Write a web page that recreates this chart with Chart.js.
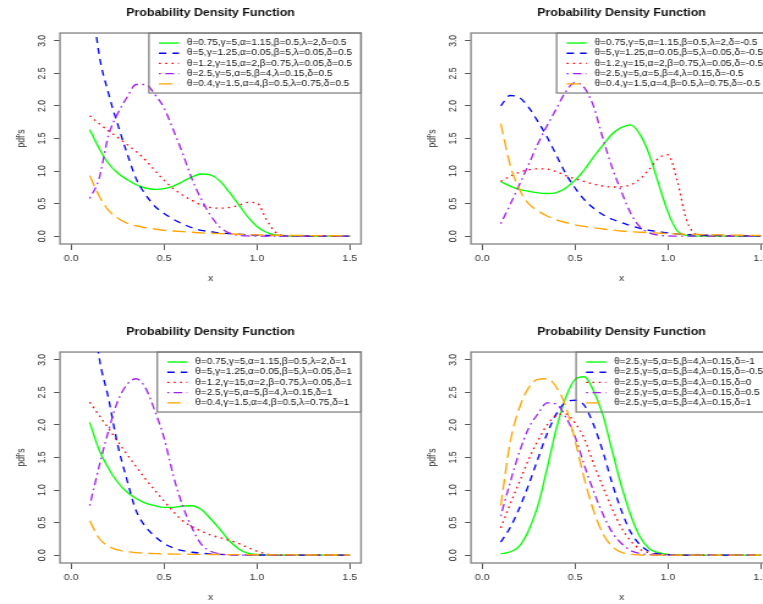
<!DOCTYPE html>
<html>
<head>
<meta charset="utf-8">
<title>Probability Density Function</title>
<script src="https://cdn.jsdelivr.net/npm/chart.js@4.4.1/dist/chart.umd.min.js"></script>
<style>
  html, body { margin: 0; padding: 0; background: #fff; }
  body { width: 763px; height: 604px; overflow: hidden; position: relative; }
  .panel { position: absolute; width: 380px; height: 300px; }
  .panel canvas { display: block; }
</style>
</head>
<body>
<div class="panel" style="left:0;top:0"><canvas id="pdfHalf"></canvas></div>
<div class="panel" style="left:411px;top:0"><canvas id="pdfNegHalf"></canvas></div>
<div class="panel" style="left:0;top:319px"><canvas id="pdfOne"></canvas></div>
<div class="panel" style="left:411px;top:319px"><canvas id="pdfSweep"></canvas></div>
<script>
// x grid shared by every curve
const xGrid = [0.10, 0.15, 0.20, 0.25, 0.30, 0.35, 0.40, 0.45, 0.50, 0.55, 0.60, 0.65, 0.70, 0.75,
  0.80, 0.85, 0.90, 0.95, 1.00, 1.05, 1.10, 1.15, 1.20, 1.25, 1.30, 1.35, 1.40, 1.45, 1.50];
const xTicks = [0, 0.5, 1, 1.5];
const yTicks = [0, 0.5, 1, 1.5, 2, 2.5, 3];

// delta = 0.5
const halfLabels = [
  'θ=0.75,γ=5,α=1.15,β=0.5,λ=2,δ=0.5',
  'θ=5,γ=1.25,α=0.05,β=5,λ=0.05,δ=0.5',
  'θ=1.2,γ=15,α=2,β=0.75,λ=0.05,δ=0.5',
  'θ=2.5,γ=5,α=5,β=4,λ=0.15,δ=0.5',
  'θ=0.4,γ=1.5,α=4,β=0.5,λ=0.75,δ=0.5'
];
const halfGreen = [1.64, 1.35, 1.12, 0.97, 0.87, 0.79, 0.74, 0.72, 0.73, 0.77, 0.84, 0.91, 0.955, 0.94,
  0.85, 0.68, 0.49, 0.30, 0.15, 0.06, 0.02, 0.005, 0, 0, 0, 0, 0, 0, 0];
const halfBlue = [3.9, 2.8, 2.2, 1.72, 1.28, 0.88, 0.64, 0.46, 0.35, 0.26, 0.19, 0.13, 0.09, 0.07,
  0.05, 0.04, 0.03, 0.02, 0.015, 0.01, 0.01, 0.005, 0.004, 0.003, 0.002, 0.002, 0.001, 0.001, 0.001];
const halfRed = [1.85, 1.73, 1.62, 1.52, 1.41, 1.30, 1.17, 1.01, 0.86, 0.73, 0.63, 0.55, 0.48, 0.44,
  0.43, 0.44, 0.47, 0.52, 0.51, 0.26, 0.06, 0.01, 0, 0, 0, 0, 0, 0, 0];
const halfPurple = [0.58, 0.88, 1.54, 1.88, 2.13, 2.33, 2.33, 2.18, 1.97, 1.63, 1.27, 0.88, 0.57, 0.32,
  0.14, 0.05, 0.015, 0.004, 0, 0, 0, 0, 0, 0, 0, 0, 0, 0, 0];
const halfOrange = [0.93, 0.62, 0.40, 0.28, 0.20, 0.16, 0.13, 0.11, 0.09, 0.08, 0.07, 0.06, 0.05, 0.045,
  0.04, 0.035, 0.03, 0.025, 0.02, 0.018, 0.015, 0.013, 0.011, 0.01, 0.009, 0.008, 0.007, 0.006, 0.005];

// delta = -0.5
const negHalfLabels = [
  'θ=0.75,γ=5,α=1.15,β=0.5,λ=2,δ=-0.5',
  'θ=5,γ=1.25,α=0.05,β=5,λ=0.05,δ=-0.5',
  'θ=1.2,γ=15,α=2,β=0.75,λ=0.05,δ=-0.5',
  'θ=2.5,γ=5,α=5,β=4,λ=0.15,δ=-0.5',
  'θ=0.4,γ=1.5,α=4,β=0.5,λ=0.75,δ=-0.5'
];
const negHalfGreen = [0.84, 0.77, 0.72, 0.69, 0.665, 0.655, 0.67, 0.74, 0.86, 1.02, 1.22, 1.40, 1.57, 1.67,
  1.71, 1.56, 1.25, 0.80, 0.37, 0.08, 0.012, 0.002, 0, 0, 0, 0, 0, 0, 0];
const negHalfBlue = [2.00, 2.16, 2.13, 1.98, 1.76, 1.52, 1.24, 0.96, 0.74, 0.56, 0.43, 0.33, 0.26, 0.21,
  0.16, 0.12, 0.09, 0.07, 0.05, 0.035, 0.025, 0.02, 0.015, 0.012, 0.01, 0.008, 0.006, 0.005, 0.004];
const negHalfRed = [0.84, 0.92, 0.98, 1.02, 1.035, 1.03, 0.99, 0.93, 0.88, 0.84, 0.80, 0.77, 0.755, 0.76,
  0.79, 0.88, 1.03, 1.20, 1.25, 0.85, 0.25, 0.03, 0.005, 0, 0, 0, 0, 0, 0];
const negHalfPurple = [0.19, 0.48, 0.79, 1.10, 1.42, 1.70, 1.96, 2.22, 2.36, 2.28, 1.99, 1.50, 1.05, 0.68,
  0.35, 0.14, 0.05, 0.015, 0.004, 0, 0, 0, 0, 0, 0, 0, 0, 0, 0];
const negHalfOrange = [1.73, 1.10, 0.72, 0.50, 0.39, 0.31, 0.25, 0.21, 0.175, 0.15, 0.13, 0.11, 0.095, 0.08,
  0.07, 0.06, 0.055, 0.047, 0.04, 0.035, 0.03, 0.027, 0.024, 0.021, 0.019, 0.017, 0.015, 0.013, 0.012];

// delta = 1
const oneLabels = [
  'θ=0.75,γ=5,α=1.15,β=0.5,λ=2,δ=1',
  'θ=5,γ=1.25,α=0.05,β=5,λ=0.05,δ=1',
  'θ=1.2,γ=15,α=2,β=0.75,λ=0.05,δ=1',
  'θ=2.5,γ=5,α=5,β=4,λ=0.15,δ=1',
  'θ=0.4,γ=1.5,α=4,β=0.5,λ=0.75,δ=1'
];
const oneGreen = [2.04, 1.62, 1.34, 1.12, 0.97, 0.87, 0.80, 0.76, 0.735, 0.735, 0.755, 0.76, 0.70, 0.56,
  0.40, 0.225, 0.10, 0.03, 0.01, 0.003, 0, 0, 0, 0, 0, 0, 0, 0, 0];
const oneBlue = [4.2, 3.05, 2.42, 1.70, 1.16, 0.68, 0.44, 0.29, 0.18, 0.11, 0.07, 0.045, 0.03, 0.02,
  0.012, 0.006, 0.004, 0.003, 0.002, 0.001, 0, 0, 0, 0, 0, 0, 0, 0, 0];
const oneRed = [2.35, 2.15, 1.95, 1.75, 1.55, 1.36, 1.17, 1.00, 0.83, 0.67, 0.53, 0.44, 0.37, 0.31,
  0.27, 0.23, 0.18, 0.12, 0.06, 0.02, 0.005, 0, 0, 0, 0, 0, 0, 0, 0];
const onePurple = [0.76, 1.36, 1.90, 2.36, 2.62, 2.71, 2.57, 2.22, 1.80, 1.22, 0.76, 0.42, 0.17, 0.06,
  0.02, 0.005, 0, 0, 0, 0, 0, 0, 0, 0, 0, 0, 0, 0, 0];
const oneOrange = [0.53, 0.26, 0.14, 0.08, 0.055, 0.04, 0.03, 0.025, 0.02, 0.017, 0.015, 0.013, 0.012, 0.011,
  0.01, 0.009, 0.008, 0.007, 0.006, 0.005, 0.005, 0.004, 0.004, 0.004, 0.003, 0.003, 0.003, 0.003, 0.003];

// theta=2.5, gamma=5, alpha=5, beta=4, lambda=0.15 with delta from -1 to 1
const sweepLabels = [
  'θ=2.5,γ=5,α=5,β=4,λ=0.15,δ=-1',
  'θ=2.5,γ=5,α=5,β=4,λ=0.15,δ=-0.5',
  'θ=2.5,γ=5,α=5,β=4,λ=0.15,δ=0',
  'θ=2.5,γ=5,α=5,β=4,λ=0.15,δ=0.5',
  'θ=2.5,γ=5,α=5,β=4,λ=0.15,δ=1'
];
const sweepM1 = [0.02, 0.05, 0.14, 0.38, 0.76, 1.34, 1.95, 2.42, 2.70, 2.74, 2.52, 2.15, 1.60, 1.06,
  0.61, 0.28, 0.10, 0.04, 0.012, 0.004, 0.001, 0, 0, 0, 0, 0, 0, 0, 0];
const sweepM05 = [0.20, 0.42, 0.72, 1.08, 1.48, 1.87, 2.17, 2.35, 2.38, 2.30, 2.00, 1.59, 1.10, 0.68,
  0.35, 0.16, 0.055, 0.02, 0.006, 0.002, 0, 0, 0, 0, 0, 0, 0, 0, 0];
const sweep0 = [0.42, 0.78, 1.12, 1.47, 1.76, 2.00, 2.15, 2.17, 2.03, 1.79, 1.40, 1.05, 0.71, 0.42,
  0.22, 0.09, 0.035, 0.01, 0.003, 0, 0, 0, 0, 0, 0, 0, 0, 0, 0];
const sweep05 = [0.60, 1.11, 1.58, 1.95, 2.17, 2.34, 2.32, 2.12, 1.82, 1.38, 0.98, 0.63, 0.35, 0.18,
  0.07, 0.025, 0.008, 0.002, 0, 0, 0, 0, 0, 0, 0, 0, 0, 0, 0];
const sweep1 = [0.76, 1.72, 2.26, 2.57, 2.70, 2.71, 2.58, 2.28, 1.76, 1.17, 0.68, 0.33, 0.13, 0.045,
  0.012, 0.003, 0, 0, 0, 0, 0, 0, 0, 0, 0, 0, 0, 0, 0];

// R-like line colours and lty patterns (solid, dashed, dotted, dotdash, longdash)
const lineColors = ['#00ff00', '#0000ff', '#ff0000', '#a020f0', '#ffa500'];
const lineDashes = [[], [6, 5], [1.6, 3.6], [1.6, 3.6, 7, 3.6], [11, 5]];

const FONT = '"Liberation Sans", Arial, Helvetica, sans-serif';
const W = 311;            // canvas pixels; the panel is shown 380px wide
const SX = 380 / W;       // horizontal stretch of each panel
const hx = v => v / SX;   // screen px -> canvas px, horizontally

// box around the plot region
const plotFrame = {
  id: 'plotFrame',
  beforeDatasetsDraw(chart) {
    const { ctx, chartArea: a } = chart;
    ctx.save();
    ctx.strokeStyle = '#8a8a8a';
    ctx.lineWidth = 1.4;
    ctx.strokeRect(a.left, a.top, a.right - a.left, a.bottom - a.top);
    ctx.restore();
  }
};

// legend box in the top-right corner of the plot region
const cornerLegend = {
  id: 'cornerLegend',
  afterDatasetsDraw(chart) {
    const { ctx, chartArea: a } = chart;
    const sets = chart.data.datasets;
    ctx.save();
    ctx.font = `8.2px ${FONT}`;
    const textW = Math.max(...sets.map(d => ctx.measureText(d.label).width));
    const boxW = textW + hx(47);
    const left = a.right - boxW;
    ctx.strokeStyle = '#7a7a7a';
    ctx.lineWidth = 1.2;
    ctx.strokeRect(left, a.top, boxW, 60);
    sets.forEach((d, i) => {
      const y = a.top + 10 + i * 10.2;
      ctx.strokeStyle = d.borderColor;
      ctx.lineWidth = d.borderWidth;
      ctx.setLineDash(d.borderDash);
      ctx.beginPath();
      ctx.moveTo(left + hx(10), y);
      ctx.lineTo(left + hx(30), y);
      ctx.stroke();
      ctx.setLineDash([]);
      ctx.fillStyle = '#111';
      ctx.textBaseline = 'middle';
      ctx.textAlign = 'left';
      ctx.fillText(d.label, left + hx(38), y);
    });
    ctx.restore();
  }
};

function drawPanel(id, labels, series) {
  const canvas = document.getElementById(id);
  canvas.width = W;
  canvas.height = 300;
  // shown wider than its pixel width, so the whole panel is stretched sideways
  canvas.style.width = '380px';
  canvas.style.height = '300px';

  const datasets = series.map((values, i) => ({
    label: labels[i],
    data: values.map((y, k) => ({ x: xGrid[k], y })),
    borderColor: lineColors[i],
    borderDash: lineDashes[i],
    borderWidth: 1.35,
    borderCapStyle: 'butt',
    pointRadius: 0,
    fill: false,
    cubicInterpolationMode: 'monotone',
    order: series.length - i   // later series drawn on top
  }));

  const tickFont = { family: FONT, size: 8.6 };

  return new Chart(canvas, {
    type: 'line',
    data: { datasets },
    plugins: [plotFrame, cornerLegend],
    options: {
      responsive: false,
      devicePixelRatio: 1,
      animation: false,
      events: [],
      layout: { padding: { left: 0, top: 0, bottom: 0, right: W - hx(361) } },
      plugins: {
        legend: { display: false },
        tooltip: { enabled: false },
        title: {
          display: true,
          text: 'Probability Density Function',
          color: '#111',
          fullSize: false,
          font: { family: FONT, size: 10.2, weight: 'bold' },
          padding: { top: 7.4, bottom: 13.4 }
        }
      },
      scales: {
        x: {
          type: 'linear',
          min: -0.06,
          max: 1.56,
          afterBuildTicks: s => { s.ticks = xTicks.map(v => ({ value: v })); },
          afterFit: s => { s.height = 56; },
          border: { display: false },
          grid: { drawOnChartArea: false, drawTicks: true, tickLength: 6, color: '#555', lineWidth: 1 },
          ticks: { color: '#333', font: tickFont, padding: 3, maxRotation: 0, callback: v => v.toFixed(1) },
          title: { display: true, text: 'x', color: '#333', font: tickFont, padding: { top: 0, bottom: 16 } }
        },
        y: {
          type: 'linear',
          min: -0.12,
          max: 3.12,
          afterBuildTicks: s => { s.ticks = yTicks.map(v => ({ value: v })); },
          afterFit: s => { s.width = hx(60); },
          border: { display: false },
          grid: { drawOnChartArea: false, drawTicks: true, tickLength: hx(6), color: '#555', lineWidth: 1 },
          ticks: {
            color: '#333', font: tickFont, padding: 3.2,
            minRotation: 90, maxRotation: 90, crossAlign: 'center',
            callback: v => v.toFixed(1)
          },
          title: { display: true, text: "pdf's", color: '#333', font: tickFont, padding: { top: 12.9, bottom: 0 } }
        }
      }
    }
  });
}

drawPanel('pdfHalf', halfLabels, [halfGreen, halfBlue, halfRed, halfPurple, halfOrange]);
drawPanel('pdfNegHalf', negHalfLabels, [negHalfGreen, negHalfBlue, negHalfRed, negHalfPurple, negHalfOrange]);
drawPanel('pdfOne', oneLabels, [oneGreen, oneBlue, oneRed, onePurple, oneOrange]);
drawPanel('pdfSweep', sweepLabels, [sweepM1, sweepM05, sweep0, sweep05, sweep1]);
</script>
</body>
</html>
